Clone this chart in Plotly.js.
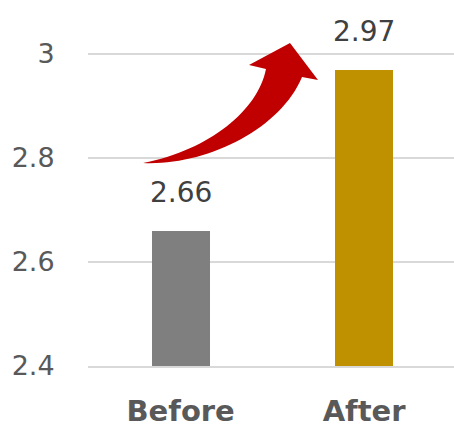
<!DOCTYPE html>
<html>
<head>
<meta charset="utf-8">
<script src="https://cdn.plot.ly/plotly-3.0.1.min.js"></script>
<style>
  html, body { margin: 0; padding: 0; background: #ffffff; overflow: hidden; }
  #chart { width: 454px; height: 425px; }
</style>
</head>
<body>
<div id="chart"></div>
<script>
// Average score before and after
const categories = ['Before', 'After'];
const scores = [2.66, 2.97];
const barColors = ['#7f7f7f', '#bf9000'];
const yTickValues = [2.4, 2.6, 2.8, 3];
const yTickLabels = ['2.4', '2.6', '2.8', '3'];

const W = 454, H = 425;
const margin = { l: 88, r: 0, t: 0, b: 59 };
const plotW = W - margin.l - margin.r;
const plotH = H - margin.t - margin.b;

// convert a pixel position on the page into paper coordinates
function paper(px, py) {
  const x = (px - margin.l) / plotW;
  const y = (H - margin.b - py) / plotH;
  return x.toFixed(4) + ',' + y.toFixed(4);
}

// curved "increase" arrow sweeping up from the first bar towards the second
const arrowPath =
  'M ' + paper(143, 163) +
  ' C ' + paper(205, 166) + ' ' + paper(280, 130) + ' ' + paper(302, 77) +
  ' L ' + paper(318, 80) +
  ' L ' + paper(290, 43) +
  ' L ' + paper(249, 65) +
  ' L ' + paper(266, 69) +
  ' C ' + paper(258, 110) + ' ' + paper(210, 150) + ' ' + paper(143, 163) +
  ' Z';

const trace = {
  type: 'bar',
  x: categories,
  y: scores,
  width: 0.316,
  marker: { color: barColors, line: { width: 0 } },
  hoverinfo: 'x+y'
};

const labels = categories.map((c, i) => ({
  x: c,
  y: scores[i],
  xref: 'x',
  yref: 'y',
  text: scores[i].toFixed(2),
  showarrow: false,
  yanchor: 'bottom',
  yshift: 20,
  font: { family: 'DejaVu Sans, Verdana, sans-serif', size: 28, color: '#404040' }
}));

const layout = {
  width: W,
  height: H,
  margin: margin,
  paper_bgcolor: '#ffffff',
  plot_bgcolor: '#ffffff',
  showlegend: false,
  bargap: 0,
  xaxis: {
    type: 'category',
    range: [-0.505, 1.49],
    showgrid: false,
    zeroline: false,
    showline: true,
    linecolor: '#d9d9d9',
    linewidth: 1.5,
    ticks: 'outside',
    ticklen: 19,
    tickcolor: 'rgba(0,0,0,0)',
    tickfont: { family: 'DejaVu Sans, Verdana, sans-serif', size: 29, color: '#595959', weight: 'bold' },
    fixedrange: true
  },
  yaxis: {
    range: [2.4, 2.4 + plotH / 520],
    tickmode: 'array',
    tickvals: yTickValues,
    ticktext: yTickLabels,
    showgrid: true,
    gridcolor: '#d9d9d9',
    gridwidth: 1.4,
    zeroline: false,
    showline: false,
    ticks: 'outside',
    ticklen: 27,
    tickcolor: 'rgba(0,0,0,0)',
    tickfont: { family: 'DejaVu Sans, Verdana, sans-serif', size: 27, color: '#595959' },
    fixedrange: true
  },
  annotations: labels,
  shapes: [{
    type: 'path',
    xref: 'paper',
    yref: 'paper',
    path: arrowPath,
    fillcolor: '#c00000',
    line: { width: 0 },
    layer: 'above'
  }]
};

Plotly.newPlot('chart', [trace], layout, { displayModeBar: false, staticPlot: true });
</script>
</body>
</html>
